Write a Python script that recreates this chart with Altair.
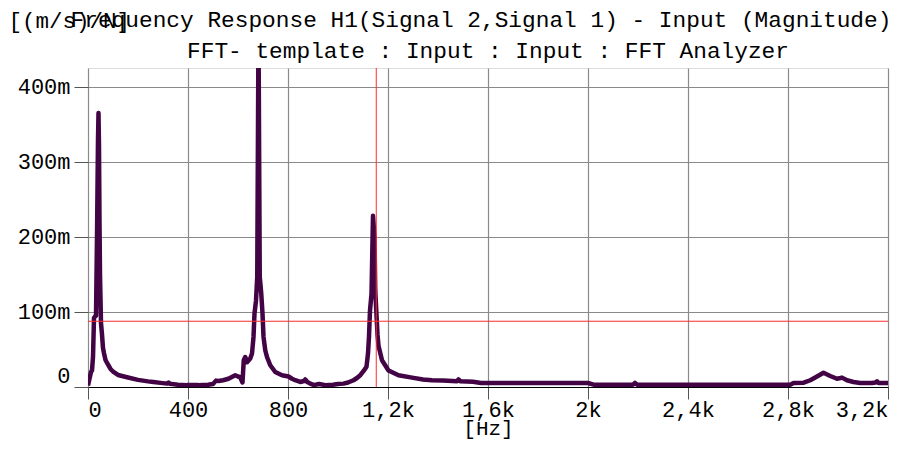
import altair as alt
import pandas as pd

# ---- data ----
freq_hz = [0, 4, 8, 12, 16, 20, 24, 28, 32, 36, 40, 42, 44, 46, 48, 52, 56, 60, 64, 70, 78, 90, 102,
           120, 156, 200, 240, 262, 290, 316, 322, 328, 360, 396, 440, 480, 500, 512, 522, 540, 562,
           589, 600, 609, 618, 623, 629, 636, 649, 656, 662, 666, 672, 677, 682, 687, 693, 698, 702,
           709, 716, 729, 749, 776, 802, 816, 829, 849, 864, 869, 876, 889, 904, 923, 930, 949, 980,
           1000, 1022, 1040, 1062, 1076, 1090, 1104, 1114, 1120, 1124, 1128, 1134, 1140, 1146, 1149,
           1153, 1158, 1162, 1176, 1202, 1242, 1296, 1340, 1376, 1420, 1476, 1482, 1490, 1540, 1572,
           1600, 1800, 2000, 2022, 2100, 2180, 2188, 2196, 2400, 2600, 2809, 2822, 2863, 2889, 2916,
           2942, 2969, 2996, 3010, 3016, 3036, 3062, 3089, 3136, 3150, 3156, 3162, 3200]
mag_milli = [2, 8, 14, 20, 22, 40, 92, 94, 95, 200, 330, 365, 320, 220, 150, 85, 70, 52, 45, 36, 31, 24, 20,
             16, 13, 9.5, 7.5, 6.7, 5.5, 4.5, 6, 4.2, 3, 2.5, 2.5, 3, 4, 8.5, 8, 9, 11,
             15.6, 14, 13, 6, 35.6, 40, 33, 38, 44.5, 66.7, 98, 115, 147, 480, 147, 124.5, 98, 67,
             49, 40, 29, 20, 15.6, 14, 11, 9, 6.7, 8, 10, 7, 4.5, 2.5, 4, 3.6, 2.5, 3,
             4, 4.5, 6, 9, 12, 16, 22, 27, 44.5, 67, 102, 124, 228, 200, 129,
             102, 70, 55, 35.6, 22, 15.6, 12.5, 10, 9, 8.5, 7.6, 10, 7.6, 7, 5.3,
             5.3, 5.3, 5.3, 3.1, 3.1, 3.1, 5.5, 3.1, 3.1, 3.1, 3.1, 5.3, 5.8, 9, 14,
             19, 14.7, 11, 12, 12.5, 9, 6.7, 5.3, 5.3, 6, 7.6, 5.3, 5.3]

cursor_freq = [1153]          # vertical red cursor [Hz]
cursor_level = [0.0876]       # horizontal red cursor

x_ticks = [0, 400, 800, 1200, 1600, 2000, 2400, 2800, 3200]
y_ticks = [0, 0.1, 0.2, 0.3, 0.4]

title_line1 = "Frequency Response H1(Signal 2,Signal 1) - Input (Magnitude)"
title_line2 = "FFT- template : Input : Input : FFT Analyzer"
y_unit = "[(m/s)/N]"
x_unit = "[Hz]"

FONT = "Courier New, Nimbus Mono PS, FreeMono, Liberation Mono"
LINE_COLOR = "#420445"
RED = "#ff2a2a"
GRID = "#8a8a8a"

df = pd.DataFrame({"f": freq_hz, "m": [v / 1000 for v in mag_milli]})
df_vc = pd.DataFrame({"f": cursor_freq})
df_hc = pd.DataFrame({"m": cursor_level})

x_scale = alt.Scale(domain=[0, 3200], nice=False, zero=False)
y_scale = alt.Scale(domain=[0, 0.425], nice=False)

x_axis = alt.Axis(
    values=x_ticks,
    title=x_unit,
    labelExpr="datum.value == 0 ? '0' : datum.value < 1000 ? format(datum.value, 'd') : replace(format(datum.value / 1000, '.1~f'), '.', ',') + 'k'",
    labelFlush=True,
    grid=True,
    gridColor=GRID,
    gridWidth=1.2,
    domain=True,
    domainColor="#000000",
    domainWidth=1,
    ticks=True,
    tickColor="#555555",
    tickSize=12,
    labelFont=FONT,
    labelFontSize=22,
    labelColor="#000000",
    labelPadding=0,
    titleFont=FONT,
    titleFontSize=21,
    titleFontWeight="normal",
    titleColor="#000000",
    titleBaseline="alphabetic",
    titleY=47,
)

y_axis = alt.Axis(
    values=y_ticks,
    title=y_unit,
    labelExpr="datum.value == 0 ? '0' : format(datum.value * 1000, '.0f') + 'm'",
    labelFlush=True,
    grid=True,
    gridColor=GRID,
    gridWidth=1.2,
    domain=False,
    ticks=True,
    tickColor="#555555",
    tickSize=14,
    labelFont=FONT,
    labelFontSize=22,
    labelColor="#000000",
    labelPadding=4,
    titleFont=FONT,
    titleFontSize=22.5,
    titleFontWeight="normal",
    titleColor="#000000",
    titleAngle=0,
    titleAlign="left",
    titleBaseline="alphabetic",
    titleX=-80,
    titleY=-41,
)

line = alt.Chart(df).mark_line(
    color=LINE_COLOR, strokeWidth=4.5, strokeJoin="round", clip=True
).encode(
    x=alt.X("f:Q", scale=x_scale, axis=x_axis),
    y=alt.Y("m:Q", scale=y_scale, axis=y_axis),
)

vrule = alt.Chart(df_vc).mark_rule(color=RED, strokeWidth=1).encode(
    x=alt.X("f:Q", scale=x_scale)
)
hrule = alt.Chart(df_hc).mark_rule(color=RED, strokeWidth=1).encode(
    y=alt.Y("m:Q", scale=y_scale)
)

title1 = alt.Chart(pd.DataFrame({"k": [0]})).mark_text(
    text=title_line1, font=FONT, fontSize=22.8, baseline="alphabetic",
    align="center", color="#000000",
).encode(x=alt.value(393), y=alt.value(-41))

title2 = alt.Chart(pd.DataFrame({"k": [0]})).mark_text(
    text=title_line2, font=FONT, fontSize=22.8, baseline="alphabetic",
    align="center", color="#000000",
).encode(x=alt.value(400), y=alt.value(-10))

chart = alt.layer(line, vrule, hrule, title1, title2).properties(
    width=800,
    height=319,
    autosize=alt.AutoSizeParams(type="none"),
    padding={"left": 80, "top": 60, "right": 5, "bottom": 54},
).configure_view(stroke=None).configure(background="white")

chart.save("out.html", embed_options={"renderer": "svg", "actions": False})
